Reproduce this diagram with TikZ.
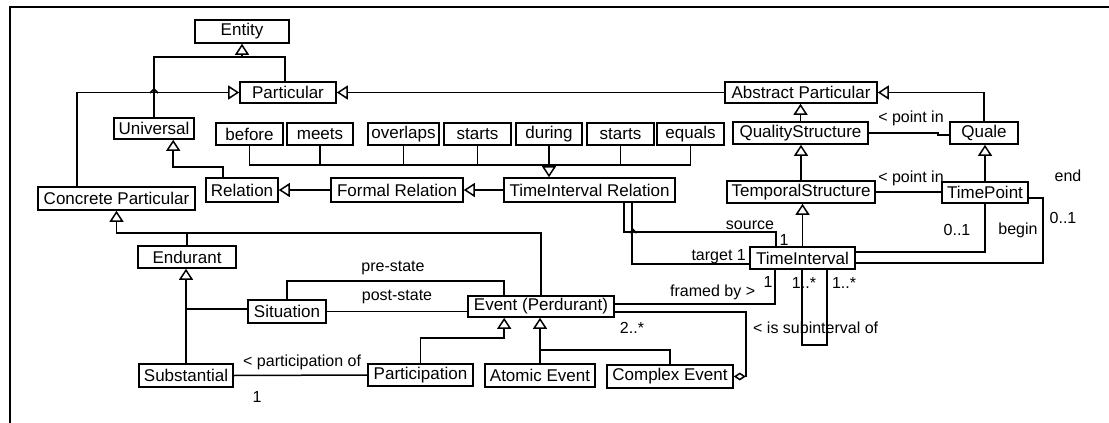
\documentclass[tikz,border=0pt]{standalone}
\usepackage{fontspec}
\setmainfont{Liberation Sans}
\usetikzlibrary{arrows.meta,calc}
\newcommand\ubox[6]{\node[cls,minimum width={#4-#2},minimum height={#5-#3}] (#1) at ({(#2+#4)/2},{(#3+#5)/2}) {#6};}
\begin{document}
\begin{tikzpicture}[x=1pt,y=-1pt,
  cls/.style={draw,line width=1.6pt,inner sep=0pt,font=\fontsize{17}{19}\selectfont},
  con/.style={line width=1.5pt},
  gen/.style={con,-{Triangle[open,length=11pt,width=14pt]}},
  agg/.style={con,-{Diamond[open,length=12pt,width=8pt]}},
  lbl/.style={font=\fontsize{16}{18}\selectfont,inner sep=0pt}]
\useasboundingbox (0,0) rectangle (1109,423);
\fill[white] (0,0) rectangle (1109,423);
\draw[line width=2pt] (10,423) -- (10,7) -- (1109,7);
% classes
\ubox{entity}{195}{20}{289}{43}{Entity}
\ubox{particular}{240}{82}{336}{103}{Particular}
\ubox{universal}{114}{118}{194}{139}{Universal}
\ubox{before}{216}{123}{283}{145}{before}
\ubox{meets}{287}{123}{353}{145}{meets}
\ubox{overlaps}{368}{123}{439}{145}{overlaps}
\ubox{startsA}{444}{123}{511}{145}{starts}
\ubox{during}{516}{123}{582}{145}{during}
\ubox{startsB}{587}{123}{654}{145}{starts}
\ubox{equals}{657}{123}{724}{145}{equals}
\ubox{relation}{206}{178}{278}{202}{Relation}
\ubox{formal}{331}{178}{463}{202}{Formal Relation}
\ubox{tir}{504}{178}{675}{202}{TimeInterval Relation}
\ubox{concrete}{38}{187}{195}{210}{Concrete Particular}
\ubox{abstract}{725}{82}{877}{103}{Abstract Particular}
\ubox{quality}{733}{122}{868}{144}{QualityStructure}
\ubox{quale}{950}{122}{1018}{144}{Quale}
\ubox{temporal}{727}{181}{875}{203}{TemporalStructure}
\ubox{timepoint}{942}{182}{1028}{203}{TimePoint}
\ubox{timeint}{750}{247}{855}{269}{TimeInterval}
\ubox{endurant}{138}{246}{236}{268}{Endurant}
\ubox{situation}{248}{300}{326}{323}{Situation}
\ubox{event}{468}{296}{614}{317}{Event (Perdurant)}
\ubox{substantial}{139}{364}{233}{387}{Substantial}
\ubox{participation}{368}{364}{473}{386}{Participation}
\ubox{atomic}{485}{364}{595}{387}{Atomic Event}
\ubox{complex}{607}{365}{733}{388}{Complex Event}
% Entity hierarchy
\coordinate (ej) at (242,57);
\draw[con] (universal.north) |- (ej) -| ([xshift=46pt]particular.north west);
\draw[gen] (ej) -- (entity.south);
\draw[gen] ([xshift=40pt]concrete.north west) |- (particular.west);
\draw[con] (150,93) -- (154,89) -- (158,93);
\draw[gen] (abstract.west) -- (particular.east);
% relations
\draw[gen] ([xshift=18pt]relation.north west) |- ([xshift=60pt,yshift=-27pt]universal.south west) -- ([xshift=60pt]universal.south west);
\draw[gen] (formal.west) -- (relation.east);
\draw[gen] (tir.west) -- (formal.east);
\coordinate (rj) at (549,165);
\draw[con] (before.south) |- (rj) -| (equals.south);
\foreach \n in {meets,overlaps,startsA,startsB} \draw[con] (\n.south) -- (\n.south |- rj);
\draw[gen] (during.south) -- (during.south |- tir.north);
% abstract side
\draw[gen] (quality.north) -- (quality.north |- abstract.south);
\draw[gen] (temporal.north) -- (temporal.north |- quality.south);
\draw[gen] (timeint.north) -- (timeint.north |- temporal.south);
\draw[gen] (quale.north) |- (abstract.east);
\draw[gen] (timepoint.north) -- (timepoint.north |- quale.south);
\draw[con] (quality.east) -- ++(69,0) |- ([yshift=-2pt]quale.west);
\draw[con] (temporal.east) -- (temporal.east -| timepoint.west);
\draw[con] (timepoint.south) |- ([yshift=6pt]timeint.east);
\draw[con] ([yshift=-5.5pt]timepoint.east) -- ++(14,0) |- ([yshift=-5pt]timeint.east);
% TimeInterval Relation source / target
\draw[con] ([xshift=121pt]tir.south west) |- ([xshift=27pt,yshift=14pt]timeint.north west) -- ([xshift=27pt]timeint.north west);
\draw[con] ([xshift=129pt]tir.south west) |- ([yshift=-6pt]timeint.west);
\draw[con] (629.5,233) -- (633,229.5) -- (636.5,233);
% TimeInterval self loop
\draw[con] ([xshift=53pt]timeint.south west) -- ++(0,75) -| ([xshift=78pt]timeint.south west);
% Event links
\draw[con] ([yshift=2.5pt]event.east) -| ([xshift=26pt]timeint.south west);
\draw[agg] ([yshift=-5.5pt]event.east) -- ++(131,0) |- (complex.east);
% Concrete particular subtypes
\coordinate (cp) at (116.5,233);
\draw[gen] (event.north) |- (cp) -- (concrete.south);
\draw[con] (endurant.north) -- (endurant.north |- cp);
\draw[gen] (substantial.north) -- (substantial.north |- endurant.south);
\draw[con] ([yshift=2.5pt]situation.west) -- ([yshift=2.5pt]situation.west -| substantial.north);
\draw[con] (situation.north) |- ([xshift=37pt,yshift=14pt]event.north west) -- ([xshift=37pt]event.north west);
\draw[con] (situation.east) -- (situation.east -| event.west);
\draw[gen] (participation.north) |- ([xshift=37pt,yshift=-20pt]event.south west) -- ([xshift=37pt]event.south west);
\draw[gen] (atomic.north) -- (atomic.north |- event.south);
\draw[con] (complex.north) |- ([yshift=13pt]atomic.north);
\draw[con] (substantial.east) -- (participation.west);
% labels
\node[lbl] (l1) at (393,268) {pre-state};
\node[lbl] (l2) at (397,297) {post-state};
\node[lbl,anchor=west] (l3) at (243,362) {< participation of};
\node[lbl] (l4) at (257,397) {1};
\node[lbl] (l5) at (632,328) {2..*};
\node[lbl,anchor=west] (l6) at (670,292) {framed by >};
\node[lbl,anchor=west] (l7) at (753,328) {< is subinterval of};
\node[lbl] (l8) at (750,225) {source};
\node[lbl] (l9) at (784,240) {1};
\node[lbl,anchor=east] (l10) at (746,257) {target 1};
\node[lbl] (l11) at (768,282) {1};
\node[lbl] (l12) at (804,283) {1..*};
\node[lbl] (l13) at (844,283) {1..*};
\node[lbl] (l14) at (957,230) {0..1};
\node[lbl] (l15) at (1018,230) {begin};
\node[lbl] (l16) at (1068,176) {end};
\node[lbl] (l17) at (1063,218) {0..1};
\node[lbl] (l18) at (911,118) {< point in};
\node[lbl] (l19) at (911,178) {< point in};
\end{tikzpicture}
\end{document}
